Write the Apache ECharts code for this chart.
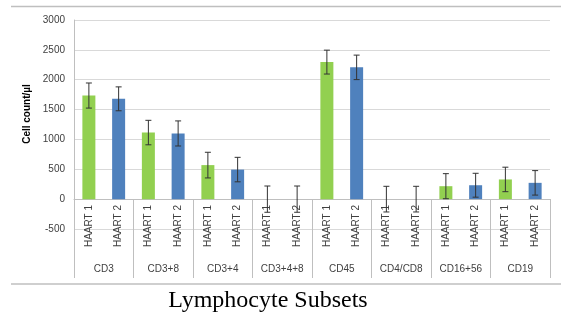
<!DOCTYPE html>
<html>
<head>
<meta charset="utf-8">
<script src="https://cdn.jsdelivr.net/npm/echarts@6/dist/echarts.min.js"></script>
<style>
  html, body { margin: 0; padding: 0; background: #fff; }
  #chart { width: 561px; height: 317px; }
</style>
</head>
<body>
<div id="chart"></div>
<script>
// chart values
const groups = ['CD3', 'CD3+8', 'CD3+4', 'CD3+4+8', 'CD45', 'CD4/CD8', 'CD16+56', 'CD19'];
const treatments = ['HAART 1', 'HAART 2'];
const haart1 = [1735, 1115, 570, 0, 2295, 0, 217, 330];
const haart1Err = [210, 205, 215, 220, 200, 215, 210, 205];
const haart2 = [1680, 1100, 495, 0, 2207, 0, 233, 273];
const haart2Err = [200, 210, 205, 220, 205, 215, 200, 205];
const yTicks = { min: -500, max: 3000, step: 500 };

const green = '#92d050';
const blue = '#4f81bd';

// interleave the two treatments into 16 sub categories
let subCats = [];
let barData = [];
let errData = [];
groups.forEach((g, i) => {
    subCats.push(treatments[0], treatments[1]);
    barData.push({ value: haart1[i], itemStyle: { color: green } });
    barData.push({ value: haart2[i], itemStyle: { color: blue } });
    errData.push([i * 2, haart1[i] - haart1Err[i], haart1[i] + haart1Err[i]]);
    errData.push([i * 2 + 1, haart2[i] - haart2Err[i], haart2[i] + haart2Err[i]]);
});

const chart = echarts.init(document.getElementById('chart'));
chart.setOption({
    animation: false,
    grid: { left: 74, right: 11, top: 20, bottom: 88 },
    xAxis: [
        {
            type: 'category',
            data: subCats,
            axisLine: { onZero: true, lineStyle: { color: '#bfbfbf' } },
            axisTick: { show: false },
            axisLabel: {
                rotate: 90,
                interval: 0,
                margin: -24,
                fontSize: 10,
                fontFamily: 'Liberation Sans',
                color: '#404040'
            }
        },
        {
            type: 'category',
            data: groups,
            position: 'bottom',
            offset: 49,
            axisLine: { show: false, onZero: false },
            axisTick: { show: true, inside: true, length: 79, lineStyle: { color: '#bfbfbf' } },
            axisLabel: {
                interval: 0,
                margin: -14,
                fontSize: 10,
                fontFamily: 'Liberation Sans',
                color: '#404040'
            }
        }
    ],
    yAxis: {
        type: 'value',
        min: yTicks.min,
        max: yTicks.max,
        interval: yTicks.step,
        axisLine: { show: true, lineStyle: { color: '#bfbfbf' } },
        axisTick: { show: false },
        axisLabel: {
            margin: 9, fontSize: 10, fontFamily: 'Liberation Sans', color: '#404040',
            formatter: v => String(v)
        },
        splitLine: { lineStyle: { color: '#d9d9d9' } }
    },
    series: [
        {
            type: 'bar',
            data: barData,
            barWidth: 13
        },
        {
            type: 'custom',
            data: errData,
            encode: { x: 0, y: [1, 2] },
            z: 5,
            renderItem: function (params, api) {
                const x = api.value(0);
                const lo = api.coord([x, api.value(1)]);
                const hi = api.coord([x, api.value(2)]);
                const cap = 3;
                const style = { stroke: '#333', lineWidth: 1 };
                return {
                    type: 'group',
                    children: [
                        { type: 'line', shape: { x1: hi[0], y1: hi[1], x2: lo[0], y2: lo[1] }, style: style },
                        { type: 'line', shape: { x1: hi[0] - cap, y1: hi[1], x2: hi[0] + cap, y2: hi[1] }, style: style },
                        { type: 'line', shape: { x1: lo[0] - cap, y1: lo[1], x2: lo[0] + cap, y2: lo[1] }, style: style }
                    ]
                };
            }
        }
    ],
    graphic: [
        { type: 'line', shape: { x1: 11, y1: 6.5, x2: 561, y2: 6.5 }, style: { stroke: '#bfbfbf', lineWidth: 1.5 } },
        { type: 'line', shape: { x1: 11, y1: 284, x2: 561, y2: 284 }, style: { stroke: '#bfbfbf', lineWidth: 1.5 } },
        {
            type: 'text', x: 27, y: 114, rotation: Math.PI / 2,
            style: {
                text: 'Cell count/µl', fontSize: 10, fontWeight: 'bold',
                fontFamily: 'Liberation Sans', fill: '#000',
                align: 'center', verticalAlign: 'middle'
            }
        },
        {
            type: 'text', x: 268, y: 301,
            style: {
                text: 'Lymphocyte Subsets', fontSize: 24,
                fontFamily: 'Liberation Serif', fill: '#000',
                align: 'center', verticalAlign: 'middle'
            }
        }
    ]
});
</script>
</body>
</html>
